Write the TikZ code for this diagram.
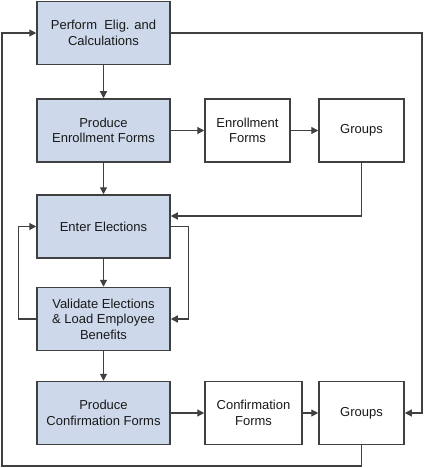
\documentclass[tikz,border=0pt]{standalone}
\usepackage{fontspec}
\setmainfont{Liberation Sans}
\usetikzlibrary{arrows.meta}
\definecolor{stepblue}{HTML}{CDD9EB}
\definecolor{linegray}{HTML}{404040}
\tikzset{
  proc/.style={draw=linegray, line width=1.5pt, fill=stepblue, minimum width=133pt, minimum height=63pt, align=center, inner sep=0pt},
  doc/.style={draw=linegray, line width=1.5pt, fill=white, minimum height=63pt, align=center, inner sep=0pt},
  flow/.style={draw=linegray, line width=1.2pt, -{Triangle[length=7pt,width=7pt]}}
}
\begin{document}
\begin{tikzpicture}[x=1pt, y=-1pt, font=\fontsize{13}{15.5}\selectfont, text=black!90]
   \useasboundingbox (0,0) rectangle (423,468);
   \node[proc] (perform) at (103.5,33) {Perform\ \ Elig. and\\Calculations};
   \node[proc] (enroll) at (103.5,130.5) {Produce\\Enrollment Forms};
   \node[proc] (enter) at (103.5,226.5) {Enter Elections};
   \node[proc] (validate) at (103.5,319) {Validate Elections\\\& Load Employee\\Benefits};
   \node[proc] (confirm) at (103.5,413) {Produce\\Confirmation Forms};
   \node[doc, minimum width=85pt] (enrollforms) at (247.5,130.5) {Enrollment\\Forms};
   \node[doc, minimum width=85pt] (groupsa) at (361.5,130.5) {Groups};
   \node[doc, minimum width=97pt] (confirmforms) at (253.5,413) {Confirmation\\Forms};
   \node[doc, minimum width=85pt] (groupsb) at (361.5,413) {Groups};
   \coordinate (rr) at (422,33);
   \coordinate (ll) at (2,466);
   % main column
   \draw[flow] (perform) -- (enroll);
   \draw[flow] (enroll) -- (enter);
   \draw[flow] (enter) -- (validate);
   \draw[flow] (validate) -- (confirm);
   % forms and groups
   \draw[flow] (enroll) -- (enrollforms);
   \draw[flow] (enrollforms) -- (groupsa);
   \draw[flow] (confirm) -- (confirmforms);
   \draw[flow] (confirmforms) -- (groupsb);
   % loops
   \draw[flow] (groupsa.south) |- ([yshift=10.5pt]enter.east);
   \draw[flow] (validate.west) -- ++(-18,0) |- (enter.west);
   \draw[flow] (enter.east) -- ++(18,0) |- (validate.east);
   \draw[flow] (perform.east) -- (rr) |- (groupsb.east);
   \draw[flow] (groupsb.south) |- (ll) |- (perform.west);
\end{tikzpicture}
\end{document}
